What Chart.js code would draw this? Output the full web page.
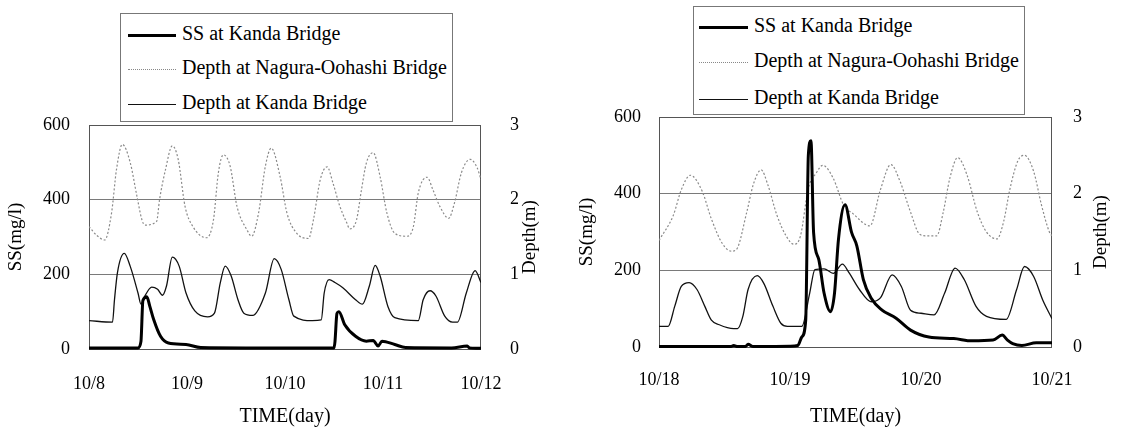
<!DOCTYPE html>
<html>
<head>
<meta charset="utf-8">
<script src="https://cdn.jsdelivr.net/npm/chart.js@4.4.0/dist/chart.umd.min.js"></script>
<style>
  body { margin: 0; background: #fff; width: 1123px; height: 429px; position: relative; overflow: hidden;
         font-family: "Liberation Serif", "Times New Roman", serif; }
  canvas { position: absolute; top: 0; }
  .legend { position: absolute; border: 1px solid #777; background: #fff; font-size: 20px; color: #000; box-sizing: border-box; }
  .legend .item { position: absolute; white-space: nowrap; line-height: 20px; }
  .legend .sample { display: inline-block; vertical-align: middle; margin-right: 6px; }
</style>
</head>
<body>
<canvas id="chartLeft" width="561" height="429" style="left:0"></canvas>
<canvas id="chartRight" width="562" height="429" style="left:561px"></canvas>
<div class="legend" id="legendLeft" style="left:120px;top:13px;width:333px;height:109px"></div>
<div class="legend" id="legendRight" style="left:693px;top:6px;width:332px;height:109px"></div>

<script>
// ---- data : left panel (10/8 - 10/12), time in day of October ----
const leftSsTime = [8.00, 8.50, 8.53, 8.55, 8.59, 8.62, 8.66, 8.73, 8.81, 8.99, 9.14, 9.60, 10.00, 10.50, 10.51, 10.53, 10.55, 10.61, 10.72, 10.83, 10.90, 10.95, 10.99, 11.12, 11.23, 11.70, 11.86, 11.88, 11.95, 12.00];
const leftSs     = [3, 3, 20, 130, 140, 115, 79, 34, 16, 12, 4, 3, 3, 3, 20, 95, 100, 65, 34, 21, 23, 8, 21, 12, 4, 3, 8, 3, 2, 2];

const leftNaguraTime = [8.00, 8.08, 8.16, 8.23, 8.28, 8.34, 8.42, 8.49, 8.54, 8.57, 8.69, 8.72, 8.78, 8.85, 8.91, 8.98, 9.06, 9.20, 9.27, 9.32, 9.37, 9.44, 9.51, 9.61, 9.66, 9.73, 9.80, 9.86, 9.95, 10.02, 10.12, 10.24, 10.29, 10.36, 10.43, 10.49, 10.56, 10.63, 10.66, 10.73, 10.78, 10.83, 10.90, 10.97, 11.04, 11.12, 11.24, 11.31, 11.36, 11.45, 11.51, 11.58, 11.67, 11.73, 11.80, 11.89, 11.96, 12.00];
const leftNagura     = [1.64, 1.52, 1.46, 1.82, 2.40, 2.74, 2.50, 2.04, 1.73, 1.66, 1.71, 2.00, 2.40, 2.72, 2.54, 1.91, 1.64, 1.49, 1.73, 2.36, 2.60, 2.45, 1.91, 1.60, 1.51, 1.82, 2.45, 2.69, 2.31, 1.82, 1.55, 1.48, 1.73, 2.27, 2.44, 2.22, 1.91, 1.69, 1.61, 1.73, 2.13, 2.49, 2.63, 2.31, 1.82, 1.55, 1.51, 1.64, 2.09, 2.30, 2.13, 1.91, 1.75, 1.96, 2.36, 2.54, 2.43, 2.27];

const leftKandaTime = [8.00, 8.24, 8.26, 8.29, 8.36, 8.42, 8.50, 8.53, 8.57, 8.64, 8.70, 8.75, 8.79, 8.85, 8.92, 8.99, 9.08, 9.21, 9.28, 9.34, 9.39, 9.45, 9.52, 9.58, 9.67, 9.80, 9.89, 9.96, 10.04, 10.09, 10.28, 10.37, 10.40, 10.45, 10.51, 10.59, 10.72, 10.79, 10.86, 10.92, 10.97, 11.05, 11.12, 11.36, 11.41, 11.48, 11.54, 11.63, 11.71, 11.76, 11.85, 11.94, 12.00];
const leftKanda     = [0.38, 0.36, 0.66, 1.02, 1.28, 1.11, 0.75, 0.60, 0.71, 0.83, 0.80, 0.72, 0.84, 1.23, 1.11, 0.75, 0.51, 0.43, 0.48, 0.89, 1.11, 0.98, 0.66, 0.48, 0.45, 0.75, 1.21, 1.07, 0.66, 0.44, 0.38, 0.39, 0.75, 0.93, 0.89, 0.82, 0.66, 0.60, 0.84, 1.12, 0.98, 0.57, 0.42, 0.38, 0.66, 0.78, 0.71, 0.44, 0.36, 0.36, 0.75, 1.05, 0.89];

// ---- data : right panel (10/18 - 10/21) ----
const rightSsTime = [18.00, 18.55, 18.57, 18.60, 18.66, 18.68, 18.72, 19.00, 19.06, 19.09, 19.12, 19.14, 19.16, 19.18, 19.22, 19.26, 19.31, 19.34, 19.37, 19.42, 19.47, 19.51, 19.56, 19.62, 19.70, 19.81, 19.92, 20.06, 20.25, 20.39, 20.55, 20.62, 20.66, 20.70, 20.77, 20.88, 21.00];
const rightSs     = [1, 1, 4, 1, 1, 7, 1, 2, 4, 26, 70, 500, 538, 299, 228, 141, 92, 141, 281, 371, 299, 264, 176, 127, 97, 75, 44, 26, 22, 16, 18, 31, 18, 9, 4, 11, 11];

const rightNaguraTime = [18.00, 18.11, 18.17, 18.24, 18.33, 18.40, 18.48, 18.55, 18.59, 18.67, 18.72, 18.78, 18.83, 18.90, 18.97, 19.03, 19.08, 19.14, 19.20, 19.25, 19.33, 19.41, 19.48, 19.61, 19.69, 19.77, 19.84, 19.92, 19.99, 20.04, 20.12, 20.17, 20.22, 20.28, 20.35, 20.43, 20.50, 20.58, 20.63, 20.68, 20.74, 20.79, 20.86, 20.92, 20.98, 21.00];
const rightNagura     = [1.39, 1.72, 2.05, 2.24, 2.03, 1.67, 1.36, 1.25, 1.27, 1.76, 2.12, 2.31, 2.12, 1.72, 1.45, 1.34, 1.45, 2.07, 2.27, 2.37, 2.20, 1.85, 1.74, 1.58, 2.05, 2.38, 2.16, 1.76, 1.47, 1.45, 1.45, 1.76, 2.20, 2.47, 2.25, 1.76, 1.50, 1.41, 1.63, 2.07, 2.43, 2.50, 2.29, 1.85, 1.50, 1.45];

const rightKandaTime = [18.00, 18.07, 18.12, 18.17, 18.23, 18.29, 18.35, 18.40, 18.46, 18.57, 18.60, 18.64, 18.68, 18.75, 18.80, 18.87, 18.93, 18.98, 19.09, 19.15, 19.19, 19.26, 19.33, 19.40, 19.45, 19.53, 19.62, 19.69, 19.78, 19.85, 19.92, 20.00, 20.10, 20.18, 20.26, 20.33, 20.42, 20.50, 20.65, 20.73, 20.79, 20.86, 20.93, 21.00];
const rightKanda     = [0.27, 0.27, 0.53, 0.79, 0.84, 0.75, 0.53, 0.35, 0.29, 0.24, 0.24, 0.40, 0.75, 0.93, 0.83, 0.53, 0.31, 0.27, 0.27, 0.70, 1.01, 1.02, 0.96, 1.08, 0.97, 0.75, 0.59, 0.64, 0.94, 0.79, 0.48, 0.44, 0.42, 0.70, 1.03, 0.88, 0.53, 0.40, 0.36, 0.75, 1.05, 0.92, 0.61, 0.37];

const seriesLabels = ['SS at Kanda Bridge', 'Depth at Nagura-Oohashi Bridge', 'Depth at Kanda Bridge'];
const ssTicks = [0, 200, 400, 600];
const depthTicks = [0, 1, 2, 3];

const serif = '"Liberation Serif", "Times New Roman", serif';

function pairs(t, v) {
  return t.map((x, i) => ({ x: x, y: v[i] }));
}

// box around the plot area
const framePlugin = {
  id: 'frame',
  beforeDatasetsDraw(chart) {
    const a = chart.chartArea, ctx = chart.ctx;
    ctx.save();
    ctx.strokeStyle = '#555';
    ctx.lineWidth = 1;
    ctx.strokeRect(a.left + 0.5, a.top + 0.5, a.right - a.left - 1, a.bottom - a.top);
    ctx.restore();
  }
};

// right axis title reads bottom-to-top like the left one
const rightTitlePlugin = {
  id: 'rightTitle',
  afterDraw(chart, args, opts) {
    const a = chart.chartArea, ctx = chart.ctx;
    ctx.save();
    ctx.translate(opts.x, (a.top + a.bottom) / 2);
    ctx.rotate(-Math.PI / 2);
    ctx.font = '19px ' + serif;
    ctx.fillStyle = '#000';
    ctx.textAlign = 'center';
    ctx.textBaseline = 'middle';
    ctx.fillText(opts.text, 0, 0);
    ctx.restore();
  }
};

function makeChart(id, cfg) {
  const tickFont = { family: serif, size: 18 };
  return new Chart(document.getElementById(id), {
    type: 'line',
    data: {
      datasets: [{
        label: seriesLabels[0],
        data: pairs(cfg.ssTime, cfg.ss),
        yAxisID: 'y',
        borderColor: '#000',
        borderWidth: 3,
        clip: 3,
        order: 0
      }, {
        label: seriesLabels[1],
        data: pairs(cfg.naguraTime, cfg.nagura),
        yAxisID: 'y1',
        borderColor: '#8a8a8a',
        borderWidth: 1.2,
        borderDash: [2, 2],
        order: 2
      }, {
        label: seriesLabels[2],
        data: pairs(cfg.kandaTime, cfg.kanda),
        yAxisID: 'y1',
        borderColor: '#111',
        borderWidth: 1.3,
        order: 1
      }]
    },
    options: {
      responsive: false,
      animation: false,
      layout: { padding: { top: cfg.top, left: 0, right: 0, bottom: 0 } },
      elements: {
        point: { radius: 0 },
        line: { cubicInterpolationMode: 'monotone' }
      },
      plugins: {
        legend: { display: false },
        tooltip: { enabled: false },
        rightTitle: { text: 'Depth(m)', x: cfg.depthTitleX }
      },
      scales: {
        x: {
          type: 'linear',
          min: cfg.xMin,
          max: cfg.xMax,
          afterBuildTicks: s => { s.ticks = cfg.days.map(d => ({ value: d })); },
          ticks: { callback: v => '10/' + v, font: tickFont, color: '#000', padding: cfg.xPad, maxRotation: 0 },
          grid: { display: false },
          border: { display: false },
          title: { display: true, text: 'TIME(day)', font: { family: serif, size: 20 }, color: '#000', padding: { top: 0, bottom: 0 } },
          afterFit: s => { s.height = cfg.xHeight; }
        },
        y: {
          position: 'left',
          min: 0,
          max: 600,
          afterBuildTicks: s => { s.ticks = ssTicks.map(v => ({ value: v })); },
          ticks: { font: tickFont, color: '#000', padding: cfg.yPad },
          grid: {
            drawTicks: false,
            color: c => (c.tick && (c.tick.value === 200 || c.tick.value === 400)) ? '#7a7a7a' : 'rgba(0,0,0,0)'
          },
          border: { display: false },
          title: { display: true, text: 'SS(mg/l)', font: { family: serif, size: 19 }, color: '#000', padding: { top: cfg.ssTitlePad } },
          afterFit: s => { s.width = cfg.leftW; }
        },
        y1: {
          position: 'right',
          min: 0,
          max: 3,
          afterBuildTicks: s => { s.ticks = depthTicks.map(v => ({ value: v })); },
          ticks: { font: tickFont, color: '#000', padding: cfg.y1Pad },
          grid: { display: false },
          border: { display: false },
          afterFit: s => { s.width = cfg.rightW; }
        }
      }
    },
    plugins: [framePlugin, rightTitlePlugin]
  });
}

function makeLegend(id, chart, rows) {
  const box = document.getElementById(id);
  const styles = ['3px solid #000', '1px dotted #888', '1px solid #111'];
  chart.data.datasets.forEach((ds, i) => {
    const item = document.createElement('div');
    item.className = 'item';
    item.style.left = rows.left + 'px';
    item.style.top = rows.top[i] + 'px';
    const sample = document.createElement('span');
    sample.className = 'sample';
    sample.style.width = rows.sample + 'px';
    sample.style.borderTop = styles[i];
    item.appendChild(sample);
    item.appendChild(document.createTextNode(ds.label));
    box.appendChild(item);
  });
}

const leftChart = makeChart('chartLeft', {
  ssTime: leftSsTime, ss: leftSs,
  naguraTime: leftNaguraTime, nagura: leftNagura,
  kandaTime: leftKandaTime, kanda: leftKanda,
  xMin: 8, xMax: 12, days: [8, 9, 10, 11, 12],
  top: 125, xHeight: 80, leftW: 89, rightW: 80,
  xPad: 16, yPad: 19, y1Pad: 21, ssTitlePad: 5, depthTitleX: 530
});

const rightChart = makeChart('chartRight', {
  ssTime: rightSsTime, ss: rightSs,
  naguraTime: rightNaguraTime, nagura: rightNagura,
  kandaTime: rightKandaTime, kanda: rightKanda,
  xMin: 18, xMax: 21, days: [18, 19, 20, 21],
  top: 117, xHeight: 82, leftW: 98, rightW: 71,
  xPad: 14, yPad: 18, y1Pad: 13, ssTitlePad: 15, depthTitleX: 540
});

makeLegend('legendLeft', leftChart, { left: 7, top: [9, 43, 78], sample: 48 });
makeLegend('legendRight', rightChart, { left: 5, top: [8, 43, 80], sample: 49 });
</script>
</body>
</html>
